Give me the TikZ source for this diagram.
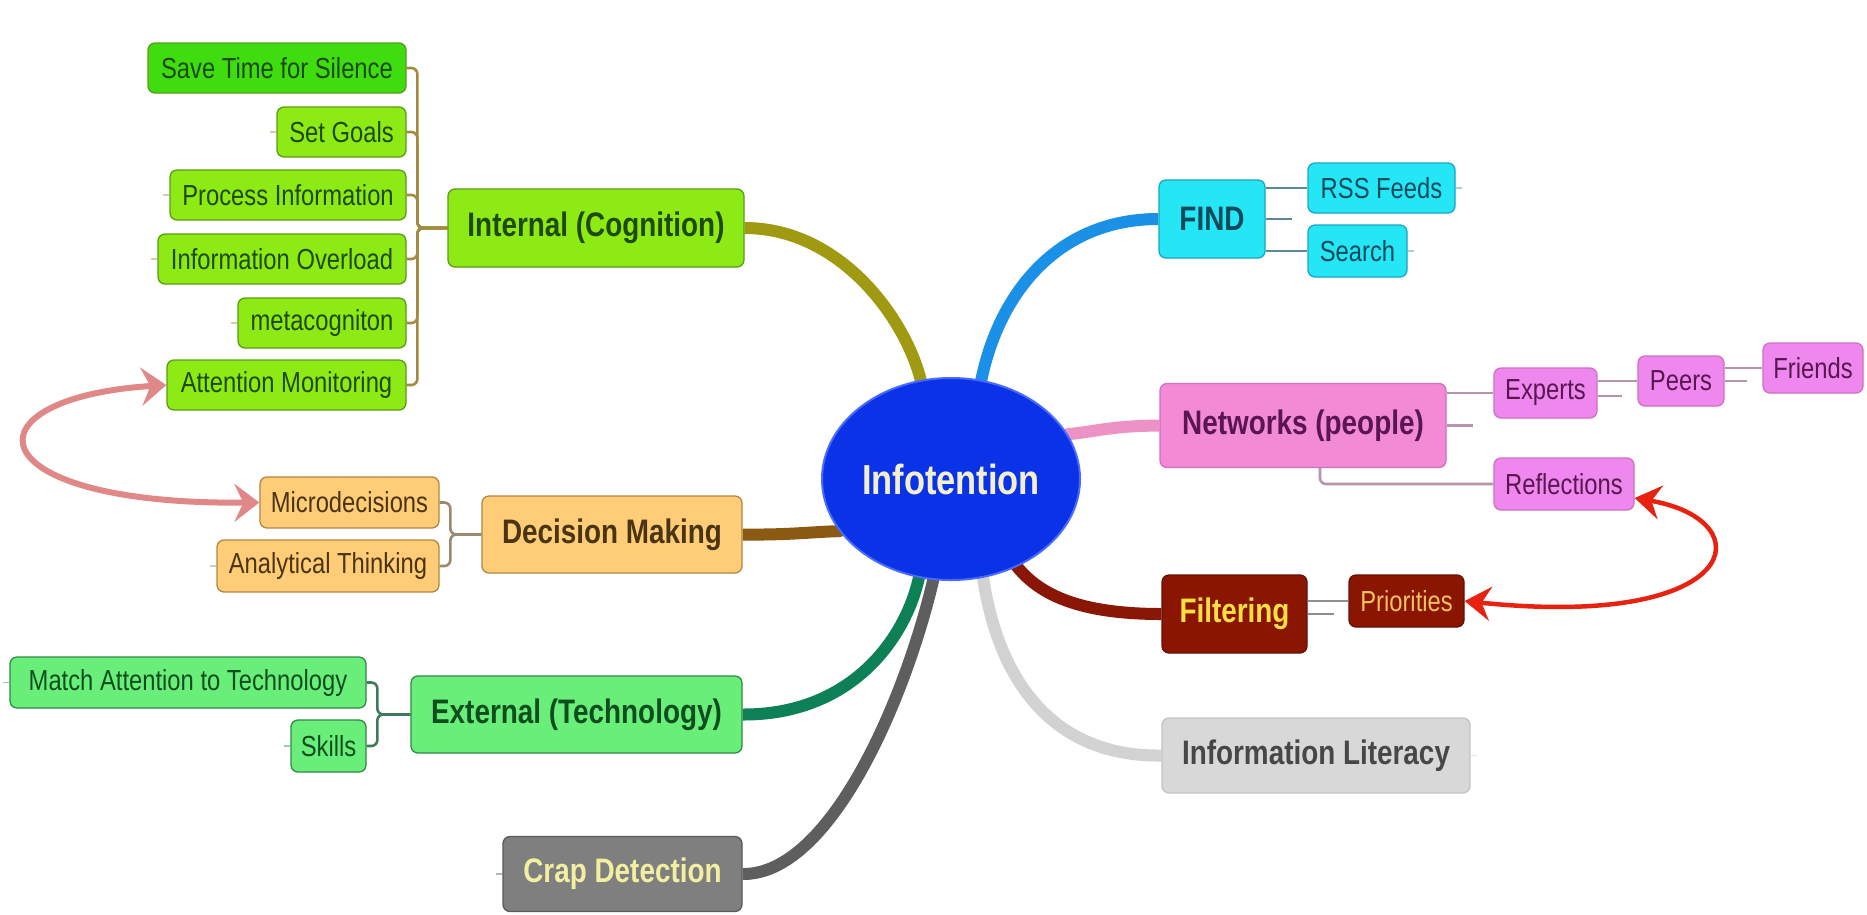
\documentclass[tikz,border=0pt]{standalone}
\usepackage{fontspec}
\setmainfont{Liberation Sans}[FakeStretch=0.82]
\usetikzlibrary{arrows.meta,shapes.geometric}
\pgfdeclarelayer{bg}
\pgfsetlayers{bg,main}
% node colours
\definecolor{gSave}{HTML}{3FDC10}
\definecolor{gLime}{HTML}{8EEA14}
\definecolor{gBord}{HTML}{5E9A18}
\definecolor{gText}{HTML}{1E4A08}
\definecolor{dFill}{HTML}{FFCC77}
\definecolor{dBord}{HTML}{B08840}
\definecolor{dText}{HTML}{4A3412}
\definecolor{eFill}{HTML}{6AEE7A}
\definecolor{eBord}{HTML}{2E8A44}
\definecolor{eText}{HTML}{0E4E1E}
\definecolor{cFill}{HTML}{7F7F7F}
\definecolor{cBord}{HTML}{5A5A5A}
\definecolor{cText}{HTML}{F2F0A0}
\definecolor{fFill}{HTML}{24E6F4}
\definecolor{fBord}{HTML}{18A6C4}
\definecolor{fText}{HTML}{0C4A5C}
\definecolor{nFill}{HTML}{F38AD6}
\definecolor{nKid}{HTML}{EE88EE}
\definecolor{nBord}{HTML}{D070C0}
\definecolor{nText}{HTML}{5A1650}
\definecolor{rFill}{HTML}{8A1602}
\definecolor{rBord}{HTML}{661000}
\definecolor{rText}{HTML}{FFE040}
\definecolor{rTextB}{HTML}{F4C060}
\definecolor{lFill}{HTML}{D8D8D8}
\definecolor{lBord}{HTML}{C4C4C4}
\definecolor{lText}{HTML}{474747}
\definecolor{oFill}{HTML}{0A32E6}
\definecolor{oBord}{HTML}{4A6AFF}
\definecolor{oText}{HTML}{F2F0CC}
% branch colours
\definecolor{bInt}{HTML}{A09A12}
\definecolor{bFind}{HTML}{1A90E6}
\definecolor{bNet}{HTML}{EC92C4}
\definecolor{bDec}{HTML}{8A5A12}
\definecolor{bFil}{HTML}{8A1606}
\definecolor{bLit}{HTML}{D2D2D2}
\definecolor{bExt}{HTML}{0E8055}
\definecolor{bCrap}{HTML}{5E5E5E}
% link colours
\definecolor{kInt}{HTML}{A08C3C}
\definecolor{kDec}{HTML}{9A8A70}
\definecolor{kExt}{HTML}{3C7C5C}
\definecolor{kFind}{HTML}{5A8A9A}
\definecolor{kNet}{HTML}{B894AC}
\definecolor{kFil}{HTML}{8E8E8E}
\definecolor{aPink}{HTML}{E08888}
\definecolor{aRed}{HTML}{E82210}
\tikzset{
  box/.style={draw, rounded corners=7pt, line width=1.3pt, inner sep=0pt, align=center},
  kid/.style={box, font=\fontsize{29}{32}\selectfont, minimum height=50pt},
  mainbox/.style={box, font=\bfseries\fontsize{34}{38}\selectfont, minimum height=78pt},
  branch/.style={line width=12pt, line join=round},
  link/.style={line width=2.6pt, rounded corners=6pt},
  stub/.style={line width=1.2pt, opacity=0.45},
  grp int/.style={fill=gLime, draw=gBord, text=gText},
  grp dec/.style={fill=dFill, draw=dBord, text=dText},
  grp ext/.style={fill=eFill, draw=eBord, text=eText},
  grp find/.style={fill=fFill, draw=fBord, text=fText},
  grp net/.style={fill=nKid, draw=nBord, text=nText},
  grp fil/.style={fill=rFill, draw=rBord, text=rTextB},
}
\begin{document}
\begin{tikzpicture}[x=1pt, y=-1pt]
\useasboundingbox (0,0) rectangle (1867,914);

% central topic
\node[ellipse, draw=oBord, line width=2pt, fill=oFill, minimum width=258pt, minimum height=202pt,
      inner sep=0pt, text=oText, font=\bfseries\fontsize{42}{46}\selectfont] (info) at (951,479) {Infotention};

% ---- Internal (Cognition)
\node[mainbox, grp int, minimum width=296pt] (int) at (596,228) {Internal (Cognition)};
\node[kid, grp int, fill=gSave, minimum width=258pt] (save) at (277,68) {Save Time for Silence};
\node[kid, grp int, minimum width=129pt] (goals) at (341.5,132) {Set Goals};
\node[kid, grp int, minimum width=236pt] (proc) at (288,195) {Process Information};
\node[kid, grp int, minimum width=248pt] (over) at (282,259) {Information Overload};
\node[kid, grp int, minimum width=168pt] (meta) at (322,323) {metacogniton};
\node[kid, grp int, minimum width=239pt] (attn) at (286.5,385) {Attention Monitoring};

% ---- Decision Making
\node[mainbox, grp dec, minimum width=260pt, minimum height=77pt] (dec) at (612,534.5) {Decision Making};
\node[kid, grp dec, minimum width=179pt, minimum height=51pt] (micro) at (349.5,502.5) {Microdecisions};
\node[kid, grp dec, minimum width=222pt, minimum height=52pt] (anal) at (328,566) {Analytical Thinking};

% ---- External (Technology)
\node[mainbox, grp ext, minimum width=331pt, minimum height=77pt] (ext) at (576.5,714.5) {External (Technology)};
\node[kid, grp ext, minimum width=356pt, minimum height=51pt] (match) at (188,682.5) {Match Attention to Technology};
\node[kid, grp ext, minimum width=75pt, minimum height=52pt] (skills) at (328.5,746) {Skills};

% ---- Crap Detection
\node[mainbox, fill=cFill, draw=cBord, text=cText, minimum width=239pt, minimum height=75pt] (crap) at (622.5,874) {Crap Detection};

% ---- FIND
\node[mainbox, grp find, minimum width=106pt] (find) at (1212,219) {FIND};
\node[kid, grp find, minimum width=147pt] (rss) at (1381.5,188) {RSS Feeds};
\node[kid, grp find, minimum width=99pt, minimum height=52pt] (search) at (1357.5,251) {Search};

% ---- Networks (people)
\node[mainbox, grp net, fill=nFill, minimum width=286pt, minimum height=84pt] (net) at (1303,425.5) {Networks (people)};
\node[kid, grp net, minimum width=103pt] (experts) at (1545.5,393) {Experts};
\node[kid, grp net, minimum width=86pt] (peers) at (1681,381) {Peers};
\node[kid, grp net, minimum width=100pt] (friends) at (1813,368) {Friends};
\node[kid, grp net, minimum width=140pt, minimum height=52pt] (refl) at (1564,484) {Reflections};

% ---- Filtering
\node[mainbox, grp fil, text=rText, minimum width=145pt] (fil) at (1234.5,614) {Filtering};
\node[kid, grp fil, minimum width=115pt, minimum height=52pt] (prio) at (1406.5,601) {Priorities};

% ---- Information Literacy
\node[mainbox, fill=lFill, draw=lBord, text=lText, minimum width=308pt, minimum height=75pt] (lit) at (1316,755.5) {Information Literacy};

\begin{pgfonlayer}{bg}
  \fill[white] (0,0) rectangle (1867,914);
  % main branches
  \draw[branch, bInt] (int.east) .. controls (840,228) and (905,318) .. (info.107) -- (info.center);
  \draw[branch, bFind] (find.west) .. controls (1060,219) and (1000,290) .. (info.73) -- (info.center);
  \draw[branch, bNet] (net.west) .. controls (1110,426) and (1100,431) .. (info.21) -- (info.center);
  \draw[branch, bDec] (dec.east) .. controls (790,535) and (810,532) .. (info.205) -- (info.center);
  \draw[branch, bFil] (fil.west) .. controls (1080,614) and (1040,595) .. (info.-53) -- (info.center);
  \draw[branch, bLit] (lit.west) .. controls (1060,757) and (1000,690) .. (info.-72) -- (info.center);
  \draw[branch, bExt] (ext.east) .. controls (850,715) and (905,640) .. (info.-108) -- (info.center);
  \draw[branch, bCrap] (crap.east) .. controls (830,875) and (905,700) .. (info.-100) -- (info.center);

  % Internal children (bracket)
  \foreach \k in {save,goals,proc,over,meta,attn}
    \draw[link, kInt] (int.west) -- ++(-30,0) |- (\k.east);
  % Decision children
  \foreach \k in {micro,anal}
    \draw[link, kDec] (dec.west) -- ++(-31,0) |- (\k.east);
  % External children
  \foreach \k in {match,skills}
    \draw[link, kExt] (ext.west) -- ++(-33,0) |- (\k.east);

  % FIND children
  \draw[link, kFind] (find.east |- rss.west) -- (rss.west);
  \draw[link, kFind] (find.east |- search.west) -- (search.west);
  \draw[link, kFind] (find.east) -- ++(26,0);

  % Networks children
  \draw[link, kNet] (net.east |- experts.west) -- (experts.west);
  \draw[link, kNet] (net.east) -- ++(26,0);
  \draw[link, kNet] ([xshift=17pt]net.south) |- (refl.west);
  \draw[link, kNet] (experts.east |- peers.west) -- (peers.west);
  \draw[link, kNet] ([yshift=-3pt]experts.east) -- ++(24,0);
  \draw[link, kNet] (peers.east |- friends.west) -- (friends.west);
  \draw[link, kNet] (peers.east) -- ++(22,0);

  % Filtering children
  \draw[link, kFil] (fil.east |- prio.west) -- (prio.west);
  \draw[link, kFil] (fil.east) -- ++(26,0);

  % small collapse stubs
  \draw[stub, kInt] (goals.west) -- ++(-6,0);
  \draw[stub, kInt] (proc.west) -- ++(-6,0);
  \draw[stub, kInt] (over.west) -- ++(-6,0);
  \draw[stub, kInt] (meta.west) -- ++(-6,0);
  \draw[stub, kDec] (anal.west) -- ++(-6,0);
  \draw[stub, kExt] (match.west) -- ++(-6,0);
  \draw[stub, kExt] (skills.west) -- ++(-6,0);
  \draw[stub, cBord] (crap.west) -- ++(-6,0);
  \draw[stub, lBord] (lit.east) -- ++(6,0);
  \draw[stub, kFind] (rss.east) -- ++(6,0);
  \draw[stub, kFind] (search.east) -- ++(6,0);
\end{pgfonlayer}

% relationship arrows
\draw[line width=6pt, aPink,
      {Stealth[length=25pt,width=38pt,inset=9pt]}-{Stealth[length=25pt,width=38pt,inset=9pt]}]
  (attn.west) .. controls (-38,398) and (-28,505) .. (micro.west);
\draw[line width=4.5pt, aRed,
      {Stealth[length=26pt,width=34pt,inset=9pt]}-{Stealth[length=26pt,width=34pt,inset=9pt]}]
  ([yshift=-14pt]refl.east) .. controls (1764,520) and (1744,630) .. (prio.east);
\end{tikzpicture}
\end{document}
